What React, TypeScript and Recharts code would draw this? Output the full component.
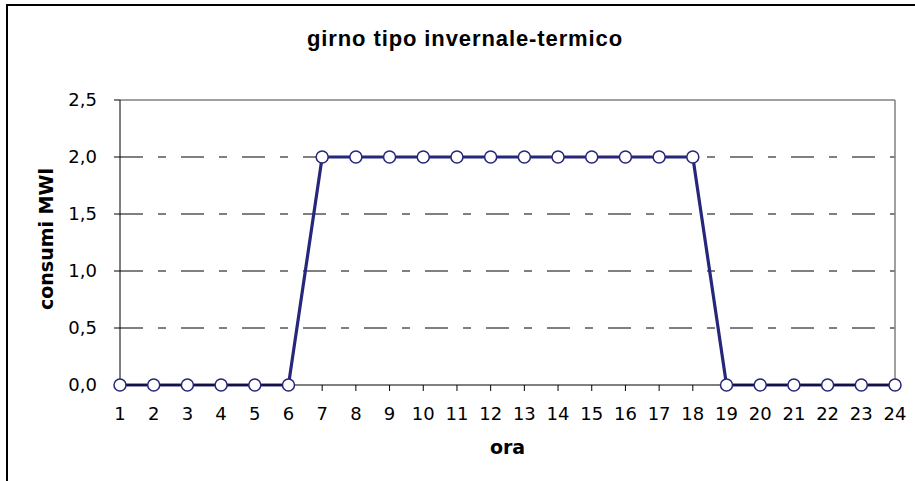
import React from 'react';
import { LineChart, Line, XAxis, YAxis, ReferenceLine } from 'recharts';

const hours = ['1','2','3','4','5','6','7','8','9','10','11','12','13','14','15','16','17','18','19','20','21','22','23','24'];
const consumi = [0,0,0,0,0,0,2,2,2,2,2,2,2,2,2,2,2,2,0,0,0,0,0,0];
const yTicks = [0,0.5,1,1.5,2,2.5];
const gridValues = [0.5,1,1.5,2];

const data = hours.map((h, i) => ({ hour: h, value: consumi[i] }));

const NAVY = '#26267a';
const TICK_FONT = { fontFamily: '"DejaVu Sans", Verdana, sans-serif', fontSize: 18, fill: '#000' };

export default function App() {
  return (
    <div style={{ position: 'absolute', left: 0, top: 0, width: 915, height: 481, overflow: 'hidden', background: '#fff' }}>
      <div style={{ position: 'absolute', left: 6, top: 4, width: 1000, height: 1000, border: '2px solid #000', boxSizing: 'border-box' }} />
      <div style={{ position: 'absolute', left: 0, top: 0 }}>
        <LineChart width={915} height={481} data={data} margin={{ top: 100, right: 20, bottom: 0, left: 0 }}>
          <text x={465} y={46} textAnchor="middle" style={{ fontFamily: '"Liberation Sans", Arial, sans-serif', fontWeight: 700, fontSize: 22, letterSpacing: 0.9 }} fill="#000">girno tipo invernale-termico</text>
          {gridValues.map((v) => (
            <ReferenceLine key={v} y={v} stroke="#000" strokeWidth={1} strokeDasharray="23 15 8 15" />
          ))}
          <ReferenceLine y={2.5} stroke="#808080" strokeWidth={1.5} />
          <ReferenceLine x="24" stroke="#808080" strokeWidth={1.5} />
          <XAxis
            dataKey="hour"
            height={96}
            tickSize={6}
            tickMargin={16}
            axisLine={{ stroke: '#000', strokeWidth: 1 }}
            tickLine={{ stroke: '#000' }}
            tick={TICK_FONT}
            interval={0}
            label={{
              content: () => (
                <text x={507.5} y={454} textAnchor="middle" style={{ fontFamily: '"DejaVu Sans", Verdana, sans-serif', fontWeight: 'bold', fontSize: 19 }} fill="#000">ora</text>
              ),
            }}
          />
          <YAxis
            width={120}
            domain={[0, 2.5]}
            ticks={yTicks}
            tickSize={6}
            tickMargin={17}
            axisLine={{ stroke: '#000', strokeWidth: 1 }}
            tickLine={{ stroke: '#000' }}
            tick={TICK_FONT}
            tickFormatter={(v: number) => v.toFixed(1).replace('.', ',')}
            label={{
              content: () => (
                <text x={53} y={239} transform="rotate(-90 53 239)" textAnchor="middle" style={{ fontFamily: '"DejaVu Sans", Verdana, sans-serif', fontWeight: 'bold', fontSize: 19 }} fill="#000">consumi MWl</text>
              ),
            }}
          />
          <Line
            type="linear"
            dataKey="value"
            stroke={NAVY}
            strokeWidth={3.2}
            dot={{ r: 6, fill: '#fff', stroke: NAVY, strokeWidth: 1.5 }}
            activeDot={false}
            isAnimationActive={false}
          />
        </LineChart>
      </div>
    </div>
  );
}
